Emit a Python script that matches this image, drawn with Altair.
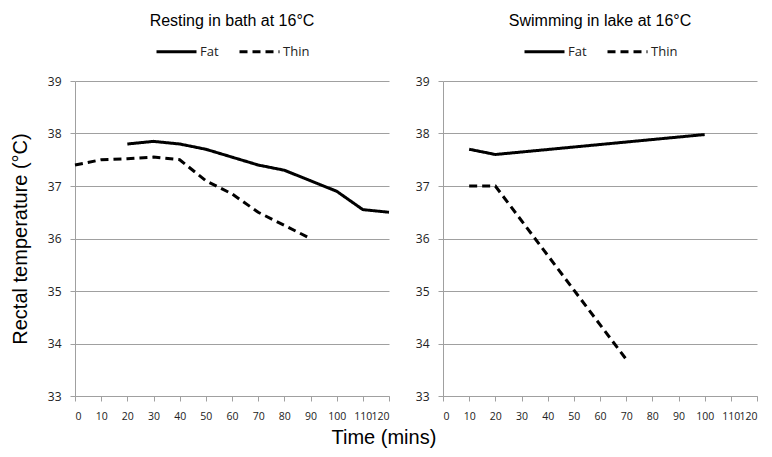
import altair as alt
import pandas as pd

# ---- data ----
rest_fat_t = [20, 30, 40, 50, 60, 70, 80, 90, 100, 110, 120]
rest_fat_v = [37.8, 37.85, 37.8, 37.7, 37.55, 37.4, 37.3, 37.1, 36.9, 36.55, 36.5]
rest_thin_t = [0, 10, 20, 30, 40, 50, 60, 70, 80, 90]
rest_thin_v = [37.4, 37.5, 37.52, 37.55, 37.5, 37.1, 36.85, 36.5, 36.25, 36.0]

swim_fat_t = [10, 20, 100]
swim_fat_v = [37.7, 37.6, 37.98]
swim_thin_t = [10, 20, 70]
swim_thin_v = [37.0, 37.0, 33.7]

groups = ["Fat", "Thin"]
x_ticks = [0, 10, 20, 30, 40, 50, 60, 70, 80, 90, 100, 110, 120]
y_ticks = [33, 34, 35, 36, 37, 38, 39]

titles = ["Resting in bath at 16°C", "Swimming in lake at 16°C"]
y_title = "Rectal temperature (°C)"
x_title = "Time (mins)"


def make_df(ft, fv, tt, tv):
    rows = [{"time": t, "temp": v, "group": "Fat"} for t, v in zip(ft, fv)]
    rows += [{"time": t, "temp": v, "group": "Thin"} for t, v in zip(tt, tv)]
    return pd.DataFrame(rows)


GRID = "#a0a0a0"
LABEL_FONT = "Open Sans"


def panel(df, title, show_ytitle):
    yaxis_kw = dict(values=y_ticks, labelFont=LABEL_FONT, labelFontSize=12,
                    labelPadding=9, tickSize=5, tickColor=GRID, domainColor=GRID,
                    gridColor=GRID, grid=True, labelColor="#222")
    if show_ytitle:
        yaxis_kw.update(title=y_title, titleFont="Liberation Sans", titleFontSize=20,
                        titleFontWeight="normal", titlePadding=17, titleColor="black")
    else:
        yaxis_kw.update(title=None)
    return (
        alt.Chart(df)
        .mark_line(strokeWidth=3, color="black")
        .encode(
            x=alt.X("time:Q",
                    scale=alt.Scale(domain=[0, 120], nice=False),
                    axis=alt.Axis(values=x_ticks, title=None, grid=False,
                                  labelFont=LABEL_FONT, labelFontSize=10.5,
                                  labelPadding=10, tickSize=5, tickColor=GRID,
                                  domainColor=GRID, labelColor="#222",
                                  labelOverlap=False)),
            y=alt.Y("temp:Q", scale=alt.Scale(domain=[33, 39], nice=False, zero=False),
                    axis=alt.Axis(**yaxis_kw)),
            strokeDash=alt.StrokeDash(
                "group:N",
                scale=alt.Scale(domain=groups, range=[[1, 0], [8, 5]]),
                legend=alt.Legend(title=None, orient="none", direction="horizontal",
                                  legendX=80, legendY=-51,
                                  symbolType="stroke", symbolSize=1600,
                                  symbolStrokeWidth=3, symbolStrokeColor="black",
                                  labelFont=LABEL_FONT, labelFontSize=13,
                                  labelOffset=2, columnPadding=14,
                                  labelColor="#222"),
            ),
        )
        .properties(
            width=314,
            height=315,
            title=alt.TitleParams(title, font="Liberation Sans", fontSize=16,
                                  fontWeight="normal", anchor="middle", offset=1,
                                  color="black"),
        )
    )


left = panel(make_df(rest_fat_t, rest_fat_v, rest_thin_t, rest_thin_v), titles[0], True)
right = panel(make_df(swim_fat_t, swim_fat_v, swim_thin_t, swim_thin_v), titles[1], False)

chart = (
    alt.hconcat(left, right, spacing=20)
    .resolve_legend(strokeDash="independent")
    .properties(
        title=alt.TitleParams(x_title, orient="bottom", anchor="middle",
                              font="Liberation Sans", fontSize=20,
                              fontWeight="normal", offset=6, color="black"),
        padding={"left": 2, "top": 5, "right": 5, "bottom": 5},
    )
    .configure_view(stroke=None)
)

chart.save("out.html", embed_options={"renderer": "svg", "actions": False})
